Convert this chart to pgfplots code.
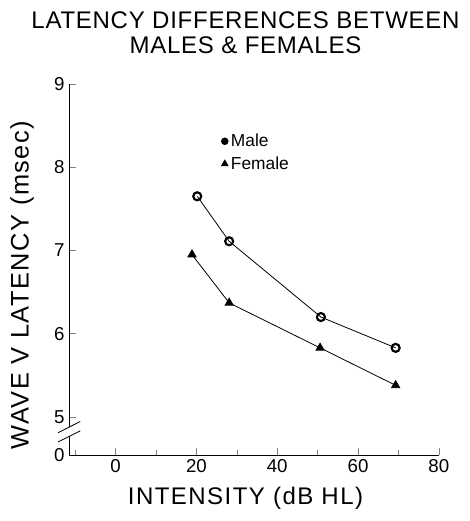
\documentclass[border=0pt]{standalone}
\usepackage{pgfplots}
\pgfplotsset{compat=1.18}
\usepackage{fontspec}
\setmainfont{Liberation Sans}
\begin{document}
\begin{tikzpicture}
\begin{axis}[
  scale only axis,
  width=277pt, height=278pt,
  xmin=-11.5, xmax=80,
  ymin=4.544, ymax=9,
  axis lines=left,
  axis line style={-, line width=0.6pt},
  xtick={0,20,40,60,80},
  minor xtick={-10,10,30,50,70},
  ytick={4.544,5,6,7,8,9},
  yticklabels={0,5,6,7,8,9},
  tick align=inside,
  major tick length=5pt,
  minor tick length=4pt,
  tick style={line width=0.5pt},
  /pgf/number format/assume math mode=true,
  ticklabel style={font=\fontsize{14}{16}\selectfont},
  clip=false,
  legend style={draw=none, fill=none, at={(rel axis cs:0.40,0.88)}, anchor=north west,
    font=\fontsize{13}{15}\selectfont, row sep=2pt},
  legend cell align=left,
]
\addplot[black, line width=0.6pt, mark=o, mark size=3pt, mark options={line width=1.6pt}, forget plot]
  coordinates {(20.2,7.65) (28.1,7.11) (50.8,6.20) (69.3,5.83)};
\addplot[black, line width=0.6pt, mark=triangle*, mark size=3.5pt, forget plot]
  coordinates {(18.9,6.95) (28.1,6.37) (50.6,5.83) (69.3,5.38)};
\addlegendimage{only marks, black, mark=*, mark size=2.6pt}
\addlegendentry{Male}
\addlegendimage{only marks, black, mark=triangle*, mark size=3pt}
\addlegendentry{Female}
% axis break marks
\fill[white] (rel axis cs:-0.01,0.05) rectangle (rel axis cs:0.01,0.075);
\draw[line width=0.6pt] (rel axis cs:-0.03,0.035) -- (rel axis cs:0.03,0.065);
\draw[line width=0.6pt] (rel axis cs:-0.03,0.06) -- (rel axis cs:0.03,0.09);
\node[font=\fontsize{18}{20}\selectfont\addfontfeature{LetterSpace=3}] at (rel axis cs:0.477,1.172) {LATENCY DIFFERENCES BETWEEN};
\node[font=\fontsize{18}{20}\selectfont\addfontfeature{LetterSpace=3}] at (rel axis cs:0.477,1.105) {MALES \& FEMALES};
\node[font=\fontsize{18}{20}\selectfont\addfontfeature{LetterSpace=6}] at (rel axis cs:0.477,-0.116) {INTENSITY (dB HL)};
\node[font=\fontsize{19}{21}\selectfont\addfontfeature{LetterSpace=6}, rotate=90] at (rel axis cs:-0.127,0.458) {WAVE V LATENCY (msec)};
\path (rel axis cs:-0.187,-0.178) (rel axis cs:1.084,1.226);
\end{axis}
\end{tikzpicture}
\end{document}
